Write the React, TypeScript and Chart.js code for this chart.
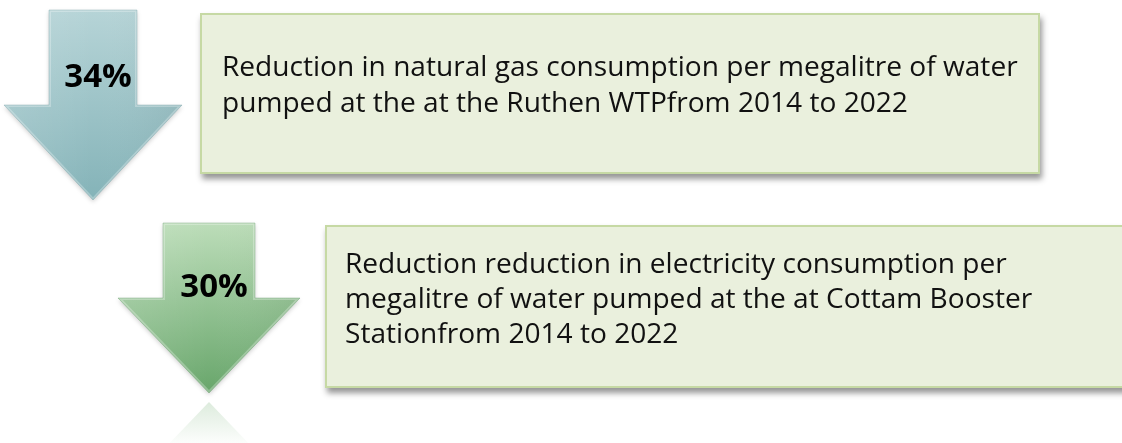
import React, { useEffect, useRef } from "react";
import { Chart, registerables } from "chart.js";

Chart.register(...registerables);

// ---- Data ----
const percentValues = [34, 30];
const percentLabels = percentValues.map((v) => `${v}%`);
const descriptionLinesGas = [
  "Reduction in natural gas consumption per megalitre of water",
  "pumped at the at the Ruthen WTPfrom 2014 to 2022",
];
const descriptionLinesElectricity = [
  "Reduction reduction in electricity consumption per",
  "megalitre of water pumped at the at Cottam Booster",
  "Stationfrom 2014 to 2022",
];
const descriptions = [descriptionLinesGas, descriptionLinesElectricity];

// ---- Layout (canvas units) ----
const W = 1122;
const H = 443;
const arrows = [
  { cx: 93, shaftHalf: 44, top: 10, headY: 105, headHalf: 89, tipY: 200, top1: "#b6d4d7", bot: "#84b3b8", edge: "#6f9fa4", reflect: false, textY: 87 },
  { cx: 209, shaftHalf: 46, top: 223, headY: 298, headHalf: 91, tipY: 393, top1: "#bcddb9", bot: "#68a66b", edge: "#5c9960", reflect: true, textY: 297 },
];
const boxes = [
  { x0: 200, y0: 13, x1: 1040, y1: 174, tx: 222, ty: 76, lh: 36 },
  { x0: 325, y0: 225, x1: 1130, y1: 388, tx: 345, ty: 273, lh: 35 },
];
const BODY_FONT = '"Open Sans", "Noto Sans", sans-serif';

const infographicPlugin = {
  id: "infographic",
  afterDraw(chart: any) {
    const { ctx } = chart;
    const xs = chart.scales.x;
    const ys = chart.scales.y;
    const px = (v: number) => xs.getPixelForValue(v);
    const py = (v: number) => ys.getPixelForValue(v);

    ctx.save();
    ctx.fillStyle = "#ffffff";
    ctx.fillRect(0, 0, chart.width, chart.height);
    ctx.restore();

    // fit body font size to reference line width
    ctx.save();
    ctx.font = `100px ${BODY_FONT}`;
    const w100 = ctx.measureText(descriptionLinesGas[0]).width;
    ctx.restore();
    const bodySize = Math.round((796 / w100) * 1000) / 10;

    // Boxes
    boxes.forEach((b, i) => {
      const x0 = px(b.x0), x1 = px(b.x1), y0 = py(b.y0), y1 = py(b.y1);
      ctx.save();
      ctx.shadowColor = "rgba(0,0,0,0.42)";
      ctx.shadowBlur = 6;
      ctx.shadowOffsetX = 2;
      ctx.shadowOffsetY = 5;
      ctx.fillStyle = "#eaf0dd";
      ctx.fillRect(x0, y0, x1 - x0, y1 - y0);
      ctx.restore();
      ctx.save();
      ctx.strokeStyle = "#c6d9a4";
      ctx.lineWidth = 2;
      ctx.strokeRect(x0 + 1, y0 + 1, x1 - x0 - 2, y1 - y0 - 2);
      ctx.restore();

      ctx.save();
      ctx.fillStyle = "#111111";
      ctx.font = `${bodySize}px ${BODY_FONT}`;
      ctx.textBaseline = "alphabetic";
      ctx.textAlign = "left";
      descriptions[i].forEach((line, k) => {
        ctx.fillText(line, px(b.tx), py(b.ty + k * b.lh));
      });
      ctx.restore();
    });

    // Arrows
    arrows.forEach((a, i) => {
      const pts = [
        [a.cx - a.shaftHalf, a.top],
        [a.cx + a.shaftHalf, a.top],
        [a.cx + a.shaftHalf, a.headY],
        [a.cx + a.headHalf, a.headY],
        [a.cx, a.tipY],
        [a.cx - a.headHalf, a.headY],
        [a.cx - a.shaftHalf, a.headY],
      ];
      const path = () => {
        ctx.beginPath();
        pts.forEach(([x, y], k) => (k ? ctx.lineTo(px(x), py(y)) : ctx.moveTo(px(x), py(y))));
        ctx.closePath();
      };
      ctx.save();
      ctx.shadowColor = "rgba(0,0,0,0.18)";
      ctx.shadowBlur = 4;
      ctx.shadowOffsetY = 2;
      const g = ctx.createLinearGradient(0, py(a.top), 0, py(a.tipY));
      g.addColorStop(0, a.top1);
      g.addColorStop(1, a.bot);
      ctx.fillStyle = g;
      path();
      ctx.fill();
      ctx.restore();

      // bevel
      ctx.save();
      path();
      ctx.clip();
      const hg = ctx.createLinearGradient(px(a.cx - a.headHalf), 0, px(a.cx + a.headHalf), 0);
      hg.addColorStop(0, "rgba(255,255,255,0.12)");
      hg.addColorStop(0.5, "rgba(255,255,255,0.0)");
      hg.addColorStop(1, "rgba(0,0,0,0.05)");
      ctx.fillStyle = hg;
      ctx.fillRect(0, 0, chart.width, chart.height);
      ctx.lineWidth = 4;
      ctx.strokeStyle = "rgba(255,255,255,0.28)";
      path();
      ctx.stroke();
      ctx.restore();
      ctx.save();
      ctx.lineWidth = 1;
      ctx.strokeStyle = a.edge;
      ctx.globalAlpha = 0.35;
      path();
      ctx.stroke();
      ctx.restore();

      if (a.reflect) {
        const ry = a.tipY + 9;
        ctx.save();
        const rg = ctx.createLinearGradient(0, py(ry), 0, py(ry + 45));
        rg.addColorStop(0, "rgba(150,195,150,0.32)");
        rg.addColorStop(1, "rgba(150,195,150,0.0)");
        ctx.fillStyle = rg;
        ctx.beginPath();
        ctx.moveTo(px(a.cx), py(ry));
        ctx.lineTo(px(a.cx + a.headHalf), py(ry + (a.tipY - a.headY)));
        ctx.lineTo(px(a.cx - a.headHalf), py(ry + (a.tipY - a.headY)));
        ctx.closePath();
        ctx.fill();
        ctx.restore();
      }

      ctx.save();
      ctx.fillStyle = "#000000";
      ctx.font = `bold 33px ${BODY_FONT}`;
      ctx.textAlign = "center";
      ctx.textBaseline = "alphabetic";
      ctx.fillText(percentLabels[i], px(a.cx + 5), py(a.textY));
      ctx.restore();
    });
  },
};

export default function App() {
  const ref = useRef<HTMLCanvasElement | null>(null);
  useEffect(() => {
    document.body.style.margin = "0";
    if (!ref.current) return;
    const chart = new Chart(ref.current, {
      type: "scatter",
      data: { datasets: [{ data: [], pointRadius: 0 }] },
      options: {
        animation: false,
        responsive: false,
        events: [],
        layout: { padding: 0 },
        plugins: { legend: { display: false }, tooltip: { enabled: false }, title: { display: false } },
        scales: {
          x: { type: "linear", min: 0, max: W, display: false },
          y: { type: "linear", min: 0, max: H, reverse: true, display: false },
        },
      },
      plugins: [infographicPlugin],
    });
    return () => chart.destroy();
  }, []);
  return (
    <div style={{ width: W, height: H }}>
      <canvas ref={ref} width={W} height={H} style={{ display: "block" }} />
    </div>
  );
}
